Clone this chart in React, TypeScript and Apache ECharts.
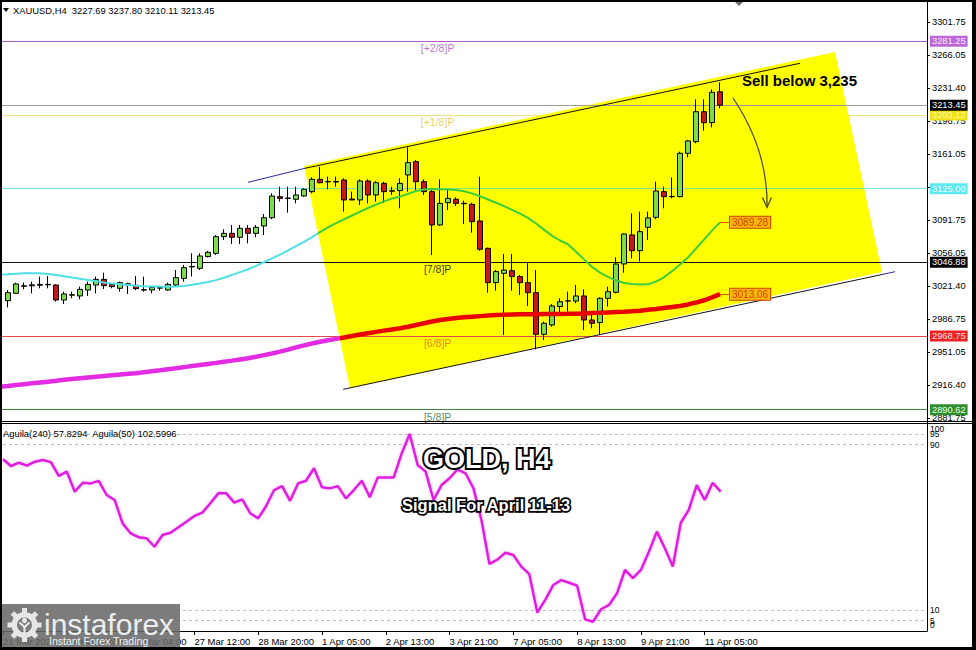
import React, { useEffect, useRef } from "react";
import * as echarts from "echarts";

// ---------------- DATA ----------------
const symbolName = "XAUUSD";
const timeframe = "H4";

const times: string[] = [
  "21 Mar 16:00", "21 Mar 20:00",
  "24 Mar 00:00", "24 Mar 04:00", "24 Mar 08:00", "24 Mar 12:00", "24 Mar 16:00", "24 Mar 20:00",
  "25 Mar 00:00", "25 Mar 04:00", "25 Mar 08:00", "25 Mar 12:00", "25 Mar 16:00", "25 Mar 20:00",
  "26 Mar 00:00", "26 Mar 04:00", "26 Mar 08:00", "26 Mar 12:00", "26 Mar 16:00", "26 Mar 20:00",
  "27 Mar 00:00", "27 Mar 04:00", "27 Mar 08:00", "27 Mar 12:00", "27 Mar 16:00", "27 Mar 20:00",
  "28 Mar 00:00", "28 Mar 04:00", "28 Mar 08:00", "28 Mar 12:00", "28 Mar 16:00", "28 Mar 20:00",
  "31 Mar 01:00", "31 Mar 05:00", "31 Mar 09:00", "31 Mar 13:00", "31 Mar 17:00", "31 Mar 21:00",
  "1 Apr 01:00", "1 Apr 05:00", "1 Apr 09:00", "1 Apr 13:00", "1 Apr 17:00", "1 Apr 21:00",
  "2 Apr 01:00", "2 Apr 05:00", "2 Apr 09:00", "2 Apr 13:00", "2 Apr 17:00", "2 Apr 21:00",
  "3 Apr 01:00", "3 Apr 05:00", "3 Apr 09:00", "3 Apr 13:00", "3 Apr 17:00", "3 Apr 21:00",
  "4 Apr 01:00", "4 Apr 05:00", "4 Apr 09:00", "4 Apr 13:00", "4 Apr 17:00", "4 Apr 21:00",
  "7 Apr 01:00", "7 Apr 05:00", "7 Apr 09:00", "7 Apr 13:00", "7 Apr 17:00", "7 Apr 21:00",
  "8 Apr 01:00", "8 Apr 05:00", "8 Apr 09:00", "8 Apr 13:00", "8 Apr 17:00", "8 Apr 21:00",
  "9 Apr 01:00", "9 Apr 05:00", "9 Apr 09:00", "9 Apr 13:00", "9 Apr 17:00", "9 Apr 21:00",
  "10 Apr 01:00", "10 Apr 05:00", "10 Apr 09:00", "10 Apr 13:00", "10 Apr 17:00", "10 Apr 21:00",
  "11 Apr 01:00", "11 Apr 05:00", "11 Apr 09:00", "11 Apr 13:00",
];

// time-axis labels, one every 8 bars starting one bar before the first candle
const timeTicks: string[] = [
  "21 Mar 2025", "24 Mar 20:00", "26 Mar 04:00", "27 Mar 12:00", "28 Mar 20:00", "1 Apr 05:00",
  "2 Apr 13:00", "3 Apr 21:00", "7 Apr 05:00", "8 Apr 13:00", "9 Apr 21:00", "11 Apr 05:00",
];

const priceTicks: string[] = [
  "2881.75", "2916.40", "2951.05", "2986.75", "3021.40", "3056.05", "3091.75",
  "3126.40", "3161.05", "3196.75", "3231.40", "3266.05", "3301.75",
];

// [open, close, low, high]
const ohlc: number[][] = [
  [3006.2, 3014.7, 2999.1, 3017.5], [3014.0, 3023.9, 3013.3, 3025.3], [3021.5, 3022.0, 3018.2, 3025.3],
  [3022.0, 3023.0, 3014.0, 3026.4], [3022.5, 3023.5, 3019.3, 3031.7], [3023.5, 3023.0, 3019.3, 3032.4],
  [3022.8, 3006.9, 3005.1, 3023.5], [3006.9, 3013.3, 3002.7, 3015.8], [3012.0, 3012.5, 3008.7, 3015.8],
  [3011.2, 3018.2, 3007.6, 3021.1], [3017.5, 3023.5, 3011.2, 3026.4], [3022.8, 3028.8, 3014.0, 3031.7],
  [3028.8, 3022.1, 3018.6, 3035.9], [3023.5, 3021.1, 3019.3, 3024.6], [3019.3, 3025.3, 3015.7, 3026.4],
  [3022.5, 3024.2, 3013.3, 3025.3], [3022.5, 3018.9, 3017.5, 3032.4], [3017.8, 3017.5, 3015.8, 3031.7],
  [3017.5, 3020.3, 3014.0, 3021.8], [3019.5, 3019.9, 3016.8, 3021.0], [3017.5, 3023.5, 3016.8, 3025.3],
  [3022.8, 3030.6, 3021.0, 3038.7], [3029.9, 3041.2, 3026.4, 3044.0], [3042.0, 3042.5, 3031.7, 3056.4],
  [3040.5, 3053.6, 3038.7, 3056.4], [3052.9, 3057.5, 3052.2, 3058.9], [3056.4, 3074.1, 3054.6, 3075.8],
  [3074.1, 3077.6, 3070.5, 3081.9], [3077.6, 3073.4, 3066.3, 3086.5], [3073.4, 3082.9, 3066.3, 3086.5],
  [3082.9, 3077.6, 3067.0, 3086.5], [3077.6, 3084.0, 3073.4, 3086.5], [3085.4, 3094.2, 3075.8, 3098.1],
  [3094.2, 3117.2, 3092.5, 3120.0], [3116.5, 3114.7, 3111.2, 3127.1], [3114.7, 3115.0, 3099.5, 3127.1],
  [3113.7, 3118.3, 3109.4, 3127.1], [3117.2, 3124.3, 3116.5, 3125.3], [3121.8, 3134.9, 3120.0, 3137.0],
  [3134.9, 3131.3, 3130.6, 3148.3], [3132.2, 3132.5, 3124.3, 3137.7], [3132.0, 3132.6, 3127.1, 3137.7],
  [3134.2, 3113.0, 3100.6, 3136.0], [3114.0, 3113.0, 3112.8, 3121.8], [3113.0, 3133.1, 3107.7, 3134.9],
  [3133.1, 3118.3, 3109.4, 3134.9], [3118.3, 3131.3, 3111.2, 3133.1], [3130.6, 3121.8, 3110.1, 3132.4],
  [3122.8, 3122.3, 3118.3, 3127.1], [3122.9, 3130.6, 3104.1, 3136.0], [3139.5, 3152.6, 3121.8, 3168.8],
  [3153.6, 3132.4, 3123.6, 3155.4], [3132.4, 3121.8, 3118.3, 3134.9], [3121.8, 3086.5, 3054.6, 3123.6],
  [3086.5, 3109.4, 3085.4, 3134.9], [3110.1, 3114.7, 3102.4, 3123.6], [3113.7, 3109.4, 3106.6, 3115.8],
  [3109.4, 3109.0, 3087.5, 3112.3], [3108.4, 3090.0, 3078.3, 3110.1], [3090.7, 3060.7, 3059.2, 3137.7],
  [3061.7, 3025.3, 3014.7, 3062.5], [3025.3, 3037.0, 3016.8, 3038.7], [3035.2, 3038.7, 2969.8, 3055.7],
  [3038.0, 3031.7, 3016.8, 3055.7], [3031.7, 3025.3, 3012.2, 3033.4], [3025.3, 3014.7, 3000.6, 3046.5],
  [3014.7, 2970.5, 2954.6, 3038.7], [2970.5, 2982.2, 2964.5, 2984.0], [2980.4, 3000.6, 2978.6, 3002.7],
  [3000.0, 3005.1, 2991.0, 3008.7], [3005.8, 3006.0, 2994.5, 3015.7], [3005.8, 3011.2, 3003.4, 3022.8],
  [3011.2, 2985.7, 2975.1, 3018.2], [2985.7, 2982.2, 2976.9, 2992.8], [2982.9, 3008.7, 2969.8, 3009.7],
  [3008.7, 3015.7, 3000.0, 3021.1], [3015.1, 3045.1, 3014.0, 3052.2], [3045.1, 3076.9, 3035.9, 3077.6],
  [3075.9, 3059.2, 3051.0, 3098.8], [3059.2, 3079.4, 3047.6, 3100.6], [3084.0, 3094.0, 3070.5, 3100.6],
  [3094.6, 3122.5, 3092.5, 3132.4], [3121.8, 3116.5, 3104.1, 3127.1], [3116.5, 3116.8, 3114.7, 3137.0],
  [3116.5, 3162.5, 3115.8, 3164.3], [3162.5, 3175.6, 3158.2, 3176.6], [3174.8, 3206.6, 3173.1, 3219.7],
  [3206.6, 3195.0, 3186.5, 3219.7], [3195.0, 3227.2, 3190.0, 3230.3], [3227.69, 3213.45, 3210.11, 3237.8],
];

// indicator series begin one bar before the first visible candle
const seriesStart = -1;

const ma50: number[] = [
  3034.0, 3034.3, 3034.8, 3035.2, 3035.4, 3035.3, 3034.6, 3033.5, 3032.2, 3030.8, 3029.4,
  3028.2, 3026.8, 3025.5, 3024.5, 3023.6, 3022.8, 3022.1, 3021.6, 3021.3, 3021.1, 3021.0,
  3021.2, 3021.8, 3023.0, 3024.5, 3026.0, 3028.0, 3030.5, 3033.5, 3036.5, 3039.5, 3043.0,
  3047.0, 3051.0, 3055.0, 3059.5, 3064.0, 3068.5, 3073.5, 3079.0, 3084.0, 3088.5, 3092.5,
  3096.5, 3100.5, 3104.5, 3108.0, 3111.5, 3114.5, 3116.5, 3119.5, 3122.5, 3124.0, 3124.5,
  3124.4, 3124.2, 3123.5, 3122.2, 3120.0, 3117.0, 3113.5, 3110.0, 3106.5, 3102.5, 3098.5,
  3094.0, 3088.0, 3081.5, 3075.0, 3070.0, 3066.0, 3058.0, 3050.0, 3042.0, 3036.0, 3031.5,
  3027.5, 3025.0, 3023.8, 3023.3, 3023.5, 3026.5, 3031.0, 3037.5, 3044.5, 3052.0, 3061.5,
  3071.0, 3080.5, 3089.28,
];

const ma240: number[] = [
  2915.0, 2915.8, 2916.7, 2917.6, 2918.5, 2919.4, 2920.3, 2921.2, 2922.3, 2923.1, 2923.9,
  2924.7, 2925.5, 2926.3, 2927.1, 2927.8, 2928.6, 2929.3, 2930.3, 2931.3, 2932.3, 2933.4,
  2934.5, 2935.7, 2936.9, 2938.0, 2939.1, 2940.2, 2941.4, 2942.6, 2943.9, 2945.2, 2946.8,
  2948.4, 2950.2, 2952.2, 2954.3, 2956.6, 2958.8, 2960.8, 2962.6, 2964.2, 2965.7, 2967.2,
  2968.8, 2970.3, 2971.7, 2973.1, 2974.4, 2975.7, 2976.9, 2978.6, 2980.4, 2982.3, 2984.1,
  2985.7, 2986.8, 2987.7, 2988.5, 2989.2, 2989.8, 2990.4, 2990.9, 2991.2, 2991.5, 2991.7,
  2991.8, 2991.9, 2992.0, 2992.0, 2992.1, 2992.2, 2992.4, 2992.7, 2993.0, 2993.3, 2993.7,
  2994.1, 2994.5, 2995.0, 2995.6, 2996.5, 2997.4, 2998.4, 2999.4, 3000.6, 3002.2, 3004.2,
  3006.6, 3009.6, 3013.06,
];

const aguila: number[] = [
  83.0, 79.7, 81.3, 79.9, 81.8, 82.6, 81.6, 74.9, 77.0, 67.3, 71.6,
  71.3, 72.5, 65.7, 63.3, 52.0, 47.2, 45.3, 44.8, 40.7, 46.4, 47.5,
  50.1, 52.8, 55.6, 57.2, 61.7, 66.5, 66.5, 62.0, 63.6, 56.9, 54.4,
  60.4, 68.1, 70.0, 62.9, 71.3, 72.6, 78.6, 69.4, 68.9, 70.0, 64.1,
  68.1, 72.6, 64.6, 74.2, 74.2, 74.2, 85.8, 95.2, 80.2, 77.0, 63.3,
  70.5, 73.8, 78.1, 76.2, 68.9, 53.6, 32.4, 34.5, 37.8, 36.7, 31.1,
  27.5, 8.9, 15.0, 22.2, 24.6, 23.3, 21.9, 5.6, 4.5, 10.5, 12.6,
  18.2, 29.5, 25.5, 29.5, 38.3, 48.0, 40.0, 31.1, 52.3, 58.5, 70.5,
  63.3, 71.6, 67.3,
];

const aguilaHeader = "Aguila(240) 57.8294  Aguila(50) 102.5996";

const levelValues = [3281.25, 3203.12, 3125.0, 3046.88, 2968.75, 2890.62];
const levelNames = ["[+2/8]P", "[+1/8]P", "[8/8]P", "[7/8]P", "[6/8]P", "[5/8]P"];
const lastPrice = 3213.45;
const oscLevels = [95, 90, 10, 5];

// channel annotations in (bar index, price)
const upperChannel = [[30, 3131.7], [37.125, 3146.6], [99, 3257.95]];
const lowerChannel = [[41.91, 2912.2], [109.25, 3033.9], [110.875, 3036.9]];
const channelBox = [[37, 3149.0], [103.375, 3269.93], [109.25, 3036.6], [42.75, 2913.25]];
const ma50BoxEntry = 38.7;
const ma240BoxEntry = 41.5;
const levelTagBar = 53.7;
const sellText = "Sell below 3,235";

// ---------------- LAYOUT / STYLE ----------------
const FONT = '"Liberation Sans", Arial, sans-serif';
const X_MIN = -1;
const X_MAX = 114.875;
const X_STEP = 8;
const P_MIN = 2881.75;
const P_MAX = 3321.9;
const P_STEP = 35;

const levelLook = [
  { line: "#b45ac8", bg: "#bf68d9", fg: "#f7eafc", tag: "#a94fc0" },
  { line: "#efe48a", bg: "#f1e21a", fg: "#fbf6a8", tag: "#d8c83c" },
  { line: "#7ee3ee", bg: "#5fe8f2", fg: "#e8ffff", tag: "" },
  { line: "#111111", bg: "#000000", fg: "#ffffff", tag: "#000000" },
  { line: "#e04a4a", bg: "#ee2222", fg: "#ffe0e0", tag: "#e8622a" },
  { line: "#3b8a3b", bg: "#2f8f2f", fg: "#e6ffe6", tag: "#2e6b2e" },
];

function edgeK(a: number[], b: number[], p: number) {
  return a[0] + ((b[0] - a[0]) * (p - a[1])) / (b[1] - a[1]);
}

function axisLabelStyle(size: number) {
  return {
    show: true,
    position: "end",
    distance: 3,
    fontSize: size,
    fontFamily: FONT,
    lineHeight: 10,
    padding: [1, 2, 0, 2],
  };
}

function levelLine(v: number, i: number) {
  const look = levelLook[i];
  return {
    yAxis: v,
    lineStyle: { color: look.line, width: 1, type: "solid" },
    label: {
      ...axisLabelStyle(9.3),
      formatter: v.toFixed(2),
      color: look.fg,
      backgroundColor: look.bg,
    },
  };
}

function segment(a: number[], b: number[], color: string) {
  return [
    { coord: a, lineStyle: { color, width: 1, type: "solid" }, label: { show: false } },
    { coord: b },
  ];
}

function endTag(values: number[]) {
  const v = values[values.length - 1];
  const k = values.length - 1 + seriesStart;
  return {
    silent: true,
    symbol: "none",
    z: 6,
    animation: false,
    data: [
      [
        {
          coord: [k, v],
          lineStyle: { color: "#e05a00", width: 1, type: "solid" },
          label: {
            show: true,
            position: "end",
            distance: 0,
            formatter: v.toFixed(2),
            color: "#d84000",
            backgroundColor: "#f7b800",
            borderColor: "#d84000",
            borderWidth: 1,
            padding: [1, 2, 0, 2],
            fontSize: 10,
            lineHeight: 10,
            fontFamily: FONT,
          },
        },
        { coord: [k + 1.25, v] },
      ],
    ],
  };
}

function outlinedText(text: string, x: number, y: number, size: number, width: number) {
  return {
    type: "text",
    x,
    y,
    z: 100,
    silent: true,
    style: {
      text,
      font: `bold ${size}px ${FONT}`,
      align: "left",
      verticalAlign: "middle",
      fill: "#ffffff",
      stroke: "#000000",
      lineWidth: width,
      strokeFirst: true,
      shadowColor: "rgba(40,40,40,0.6)",
      shadowBlur: 2,
      shadowOffsetX: 2,
      shadowOffsetY: 2,
    },
  };
}

function buildOption() {
  const last = ohlc[ohlc.length - 1];
  const headerText = `${symbolName},${timeframe}  ${last[0].toFixed(2)} ${last[3].toFixed(2)} ${last[2].toFixed(2)} ${last[1].toFixed(2)}`;

  const candleData = ohlc.map((r, i) => ({ name: times[i], value: [i, r[0], r[1], r[2], r[3]] }));
  const ma50Data = ma50.map((v, i) => [i + seriesStart, v]);
  const ma240Data = ma240.map((v, i) => [i + seriesStart, v]);
  const aguilaData = aguila.map((v, i) => [i + seriesStart, v]);

  const cyanL = edgeK(channelBox[0], channelBox[3], levelValues[2]);
  const cyanR = edgeK(channelBox[1], channelBox[2], levelValues[2]);

  const timeTickValues = timeTicks.map((_, i) => X_MIN + i * X_STEP);
  const timeFormatter = (v: number) => {
    const i = Math.round((v - X_MIN) / X_STEP);
    if (Math.abs(X_MIN + i * X_STEP - v) > 1e-6) return "";
    return timeTicks[i] ?? "";
  };
  const priceFormatter = (v: number) => {
    const i = Math.round((v - P_MIN) / P_STEP);
    if (Math.abs(P_MIN + i * P_STEP - v) > 1e-6) return "";
    return priceTicks[i] ?? "";
  };

  const tagData = levelValues
    .map((v, i) => ({ v, i }))
    .filter(({ i }) => levelLook[i].tag !== "")
    .map(({ v, i }) => ({
      value: [levelTagBar, v],
      label: { color: levelLook[i].tag, formatter: levelNames[i] },
    }));

  const oscLabel = { show: true, position: "end", distance: 3, color: "#000", fontSize: 8.5, fontFamily: FONT };
  const oscMarks: any[] = oscLevels.map((v) => ({
    yAxis: v,
    lineStyle: { color: "#bdbdbd", width: 1, type: [3, 3] },
    label: { ...oscLabel, formatter: String(v) },
  }));
  oscMarks.push({
    yAxis: 100,
    lineStyle: { color: "rgba(0,0,0,0)", width: 0 },
    label: { ...oscLabel, formatter: "100", offset: [0, 5] },
  });
  oscMarks.push({
    yAxis: 0,
    lineStyle: { color: "rgba(0,0,0,0)", width: 0 },
    label: { ...oscLabel, formatter: "0", offset: [0, -6] },
  });

  const gearTeeth = Array.from({ length: 8 }, (_, i) => ({
    type: "rect",
    x: 24.5,
    y: 625,
    rotation: (i * Math.PI) / 4,
    z: 111,
    silent: true,
    shape: { x: -2.5, y: -17, width: 5, height: 6 },
    style: { fill: "#e6e6e6" },
  }));

  const noZero = { onZero: false };

  return {
    animation: false,
    backgroundColor: "#ffffff",
    textStyle: { fontFamily: FONT },
    grid: [
      { left: 0, top: 3, width: 927, height: 415 },
      { left: 0, top: 424, width: 927, height: 207 },
    ],
    xAxis: [
      {
        type: "value", gridIndex: 0, min: X_MIN, max: X_MAX, show: false,
        axisLine: { ...noZero, show: false }, splitLine: { show: false },
      },
      {
        type: "value",
        gridIndex: 1,
        min: X_MIN,
        max: X_MAX,
        interval: X_STEP,
        axisLine: { ...noZero, show: true, lineStyle: { color: "#000", width: 1 } },
        axisTick: { show: true, length: 4, inside: false, lineStyle: { color: "#000" }, customValues: timeTickValues },
        axisLabel: {
          show: true,
          formatter: timeFormatter,
          customValues: timeTickValues,
          align: "left",
          margin: 5,
          fontSize: 9.5,
          color: "#000",
          fontFamily: FONT,
        },
        splitLine: { show: false },
      },
    ],
    yAxis: [
      {
        type: "value",
        gridIndex: 0,
        position: "right",
        min: P_MIN,
        max: P_MAX,
        interval: P_STEP,
        axisLine: { ...noZero, show: true, lineStyle: { color: "#000", width: 1 } },
        axisTick: { show: true, length: 3, inside: false, lineStyle: { color: "#000" } },
        axisLabel: { show: true, formatter: priceFormatter, margin: 5, fontSize: 9.3, color: "#000", fontFamily: FONT, showMaxLabel: false },
        splitLine: { show: false },
      },
      {
        type: "value",
        gridIndex: 1,
        position: "right",
        min: 0,
        max: 100,
        axisLine: { ...noZero, show: true, lineStyle: { color: "#000", width: 1 } },
        axisTick: { show: false },
        axisLabel: { show: false },
        splitLine: { show: false },
      },
    ],
    visualMap: [
      {
        show: false,
        type: "piecewise",
        seriesIndex: 5,
        dimension: 0,
        pieces: [
          { gte: -10, lt: ma50BoxEntry, color: "#4fdfe6" },
          { gte: ma50BoxEntry, lte: 200, color: "#3ccd3c" },
        ],
      },
      {
        show: false,
        type: "piecewise",
        seriesIndex: 4,
        dimension: 0,
        pieces: [
          { gte: -10, lt: ma240BoxEntry, color: "#e22be2" },
          { gte: ma240BoxEntry, lte: 200, color: "#e80000" },
        ],
      },
    ],
    series: [
      // 0: yellow channel box
      {
        type: "custom",
        xAxisIndex: 0,
        yAxisIndex: 0,
        z: 2,
        silent: true,
        data: [[50, 3100]],
        renderItem: (_params: any, api: any) => ({
          type: "polygon",
          shape: { points: channelBox.map((c) => api.coord(c)) },
          style: { fill: "#ffff00" },
        }),
      },
      // 1: levels drawn under the box
      {
        type: "line",
        name: "levelsUnder",
        xAxisIndex: 0,
        yAxisIndex: 0,
        z: 1,
        data: [],
        markLine: {
          silent: true,
          symbol: "none",
          z: 1,
          animation: false,
          data: [levelLine(levelValues[1], 1)],
        },
      },
      // 2: levels and channel lines over the box
      {
        type: "line",
        name: "levels",
        xAxisIndex: 0,
        yAxisIndex: 0,
        z: 3,
        data: [],
        markLine: {
          silent: true,
          symbol: "none",
          z: 3,
          animation: false,
          data: [
            levelLine(levelValues[0], 0),
            {
              yAxis: lastPrice,
              lineStyle: { color: "#9c9c9c", width: 1, type: "solid" },
              label: { ...axisLabelStyle(9.3), formatter: lastPrice.toFixed(2), color: "#ffffff", backgroundColor: "#000000" },
            },
            levelLine(levelValues[2], 2),
            levelLine(levelValues[3], 3),
            levelLine(levelValues[4], 4),
            levelLine(levelValues[5], 5),
            segment([cyanL, levelValues[2]], [cyanR, levelValues[2]], "#86e486"),
            segment(upperChannel[0], upperChannel[1], "#2b2ba0"),
            segment(upperChannel[1], upperChannel[2], "#111111"),
            segment(lowerChannel[0], lowerChannel[1], "#111111"),
            segment(lowerChannel[1], lowerChannel[2], "#2b2ba0"),
          ],
        },
      },
      // 3: candles
      {
        type: "candlestick",
        xAxisIndex: 0,
        yAxisIndex: 0,
        z: 4,
        barWidth: 5,
        data: candleData,
        itemStyle: {
          color: "#7ddc4e",
          color0: "#c8141c",
          borderColor: "#000000",
          borderColor0: "#000000",
          borderWidth: 1,
        },
      },
      // 4: MA 240
      {
        type: "line",
        name: "MA240",
        xAxisIndex: 0,
        yAxisIndex: 0,
        z: 5,
        data: ma240Data,
        showSymbol: false,
        smooth: false,
        lineStyle: { width: 4.5 },
        markLine: endTag(ma240),
      },
      // 5: MA 50
      {
        type: "line",
        name: "MA50",
        xAxisIndex: 0,
        yAxisIndex: 0,
        z: 5,
        data: ma50Data,
        showSymbol: false,
        smooth: false,
        lineStyle: { width: 2 },
        markLine: endTag(ma50),
      },
      // 6: Murrey level tags
      {
        type: "scatter",
        xAxisIndex: 0,
        yAxisIndex: 0,
        z: 6,
        silent: true,
        symbolSize: 1,
        itemStyle: { color: "rgba(0,0,0,0)" },
        label: { show: true, position: "bottom", distance: 1, fontSize: 10.5, fontFamily: FONT },
        data: tagData,
      },
      // 7: oscillator
      {
        type: "line",
        name: "Aguila",
        xAxisIndex: 1,
        yAxisIndex: 1,
        z: 3,
        data: aguilaData,
        showSymbol: false,
        lineStyle: { color: "#e01fe0", width: 2.5, shadowColor: "rgba(240,80,240,0.45)", shadowBlur: 3 },
        markLine: { silent: true, symbol: "none", z: 2, animation: false, data: oscMarks },
      },
    ],
    graphic: [
      // frame
      { type: "rect", z: 120, silent: true, shape: { x: 0, y: 0, width: 976, height: 2 }, style: { fill: "#000" } },
      { type: "rect", z: 120, silent: true, shape: { x: 0, y: 0, width: 2, height: 650 }, style: { fill: "#000" } },
      { type: "rect", z: 120, silent: true, shape: { x: 972, y: 0, width: 4, height: 650 }, style: { fill: "#000" } },
      { type: "rect", z: 120, silent: true, shape: { x: 0, y: 647, width: 976, height: 3 }, style: { fill: "#000" } },
      { type: "line", z: 90, silent: true, shape: { x1: 2, y1: 421.5, x2: 972, y2: 421.5 }, style: { stroke: "#000", lineWidth: 1 } },
      { type: "line", z: 90, silent: true, shape: { x1: 2, y1: 423.5, x2: 972, y2: 423.5 }, style: { stroke: "#000", lineWidth: 1 } },
      { type: "line", z: 90, silent: true, shape: { x1: 927.5, y1: 2, x2: 927.5, y2: 631 }, style: { stroke: "#000", lineWidth: 1 } },
      // shift marker
      { type: "polygon", z: 90, silent: true, shape: { points: [[734, 1], [744, 1], [739, 6]] }, style: { fill: "#6e6e6e" } },
      // header
      { type: "polygon", z: 90, silent: true, shape: { points: [[3, 8], [9, 8], [6, 12]] }, style: { fill: "#000" } },
      { type: "text", z: 90, silent: true, x: 13, y: 10, style: { text: headerText, font: `9.4px ${FONT}`, fill: "#000", align: "left", verticalAlign: "middle" } },
      { type: "text", z: 90, silent: true, x: 3, y: 433, style: { text: aguilaHeader, font: `9.4px ${FONT}`, fill: "#000", align: "left", verticalAlign: "middle" } },
      // sell annotation
      { type: "text", z: 90, silent: true, x: 742, y: 80, style: { text: sellText, font: `bold 15px ${FONT}`, fill: "#000", align: "left", verticalAlign: "middle" } },
      { type: "bezierCurve", z: 90, silent: true, shape: { x1: 733, y1: 98, x2: 767, y2: 207, cpx1: 768, cpy1: 150 }, style: { stroke: "#4a4a30", lineWidth: 1.3, fill: "none" } },
      { type: "polyline", z: 90, silent: true, shape: { points: [[762.5, 197.5], [767, 207.5], [771.5, 197.5]] }, style: { stroke: "#4a4a30", lineWidth: 1.3, fill: "none" } },
      // titles
      outlinedText("GOLD, H4", 423, 459, 27, 4),
      outlinedText("Signal For April 11-13", 402, 505, 16.5, 3.5),
      // watermark
      { type: "rect", z: 110, silent: true, shape: { x: 2, y: 604, width: 178, height: 43 }, style: { fill: "rgba(104,104,104,0.87)" } },
      { type: "ring", z: 111, silent: true, shape: { cx: 24.5, cy: 625, r: 13, r0: 7.5 }, style: { fill: "#e6e6e6" } },
      ...gearTeeth,
      { type: "circle", z: 112, silent: true, shape: { cx: 24.5, cy: 620.5, r: 2.6 }, style: { fill: "#e6e6e6" } },
      { type: "polyline", z: 112, silent: true, shape: { points: [[19.5, 622.5], [24.5, 627], [29.5, 622.5]] }, style: { stroke: "#e6e6e6", lineWidth: 2.2, fill: "none" } },
      { type: "line", z: 112, silent: true, shape: { x1: 24.5, y1: 627, x2: 24.5, y2: 633 }, style: { stroke: "#e6e6e6", lineWidth: 2.2 } },
      { type: "text", z: 112, silent: true, x: 44, y: 624, style: { text: "instaforex", font: `30px ${FONT}`, fill: "#ededed", align: "left", verticalAlign: "middle" } },
      { type: "text", z: 112, silent: true, x: 49, y: 641, style: { text: "Instant Forex Trading", font: `10.5px ${FONT}`, fill: "#f2f2f2", align: "left", verticalAlign: "middle" } },
    ],
  };
}

export default function App() {
  const ref = useRef<HTMLDivElement>(null);
  useEffect(() => {
    if (!ref.current) return;
    const chart = echarts.init(ref.current, null, { renderer: "svg" });
    chart.setOption(buildOption() as any);
    return () => {
      chart.dispose();
    };
  }, []);
  return (
    <div
      ref={ref}
      style={{ position: "absolute", left: 0, top: 0, width: 976, height: 650, background: "#fff" }}
    />
  );
}
